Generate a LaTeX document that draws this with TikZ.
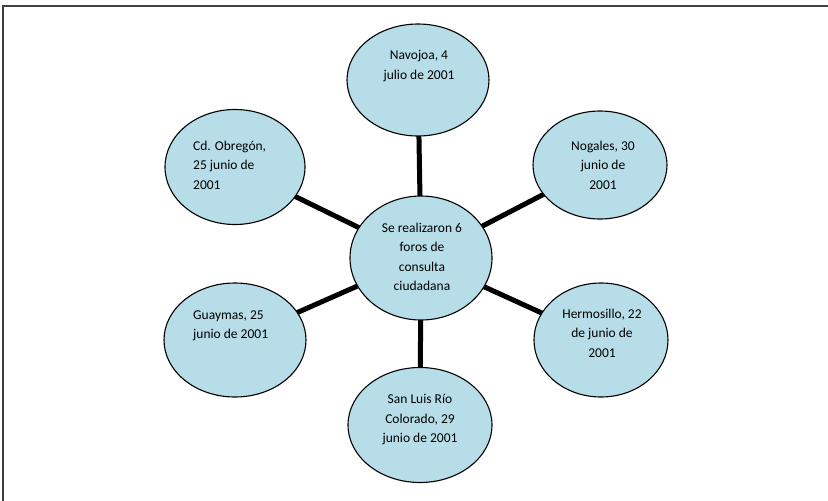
\documentclass[tikz,border=0pt]{standalone}
\usepackage{fontspec}
\setmainfont{Carlito}
\usetikzlibrary{shapes.geometric,backgrounds}
\definecolor{bubble}{HTML}{B7DEE8}
\definecolor{framec}{HTML}{404040}
\tikzset{
  bub/.style={ellipse, draw=black, line width=1.1pt, fill=bubble, inner sep=0pt},
  lbl/.style={font=\fontsize{13.5}{19.5}\selectfont, inner sep=0pt, text=black},
  spoke/.style={line width=5pt, black}
}
\begin{document}
\begin{tikzpicture}[x=1pt,y=-1pt]
\useasboundingbox (0,0) rectangle (828,501);
\coordinate (fa) at (3,501);
\coordinate (fb) at (3,5.5);
\coordinate (fc) at (828,5.5);
\draw[framec, line width=2pt] (fa) -- (fb) -- (fc);

\node[bub, minimum width=142pt, minimum height=124pt] (c) at (421,258) {};
\node[bub, minimum width=142pt, minimum height=112pt] (nav) at (418,80) {};
\node[bub, minimum width=134pt, minimum height=108pt] (nog) at (600,165) {};
\node[bub, minimum width=140pt, minimum height=115pt] (obr) at (235,167) {};
\node[bub, minimum width=142pt, minimum height=114pt] (gua) at (235,340) {};
\node[bub, minimum width=134pt, minimum height=114pt] (her) at (601,340) {};
\node[bub, minimum width=144pt, minimum height=115pt] (slr) at (420,425) {};

\begin{scope}[on background layer]
\fill[white] (0,0) rectangle (828,501);
\draw[spoke] (c.center) -- (nav.center);
\draw[spoke] (c.center) -- (nog.center);
\draw[spoke] (c.center) -- (obr.center);
\draw[spoke] (c.center) -- (gua.center);
\draw[spoke] (c.center) -- (her.center);
\draw[spoke] (c.center) -- (slr.center);
\end{scope}

\node[lbl, align=center] (tc) at (422,257) {Se realizaron 6\\foros de\\consulta\\ciudadana};
\node[lbl, align=center] (tnav) at (419,66) {Navojoa, 4\\julio de 2001};
\node[lbl, align=center] (tnog) at (603,165) {Nogales, 30\\junio de\\2001};
\node[lbl, align=left, anchor=west] (tobr) at (193,165) {Cd. Obregón,\\25 junio de\\2001};
\node[lbl, align=left, anchor=west] (tgua) at (193,326) {Guaymas, 25\\junio de 2001};
\node[lbl, align=center] (ther) at (602,333) {Hermosillo, 22\\de junio de\\2001};
\node[lbl, align=center] (tslr) at (420,420) {San Luis Río\\Colorado, 29\\junio de 2001};
\end{tikzpicture}
\end{document}
